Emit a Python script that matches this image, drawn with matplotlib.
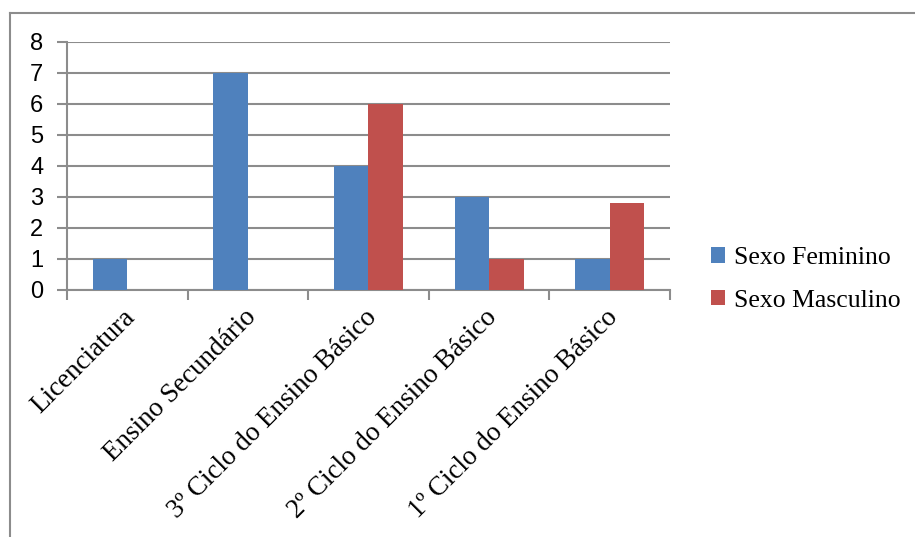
import matplotlib.pyplot as plt
import numpy as np
from matplotlib.lines import Line2D

categories = ["Licenciatura", "Ensino Secundário", "3º Ciclo do Ensino Básico",
              "2º Ciclo do Ensino Básico", "1º Ciclo do Ensino Básico"]
feminino = [1, 7, 4, 3, 1]
masculino = [0, 0, 6, 1, 2.8]
series_names = ["Sexo Feminino", "Sexo Masculino"]
colors = ["#4F81BD", "#C0504D"]
grid_color = "#8C8C8C"

fig = plt.figure(figsize=(9.15, 5.37), dpi=100)
ax = fig.add_axes([0.0732, 0.46, 0.659, 0.4618])

x = np.arange(len(categories))
bw = 1 / 3.5
ax.bar(x - bw / 2, feminino, bw, color=colors[0], label=series_names[0], zorder=3)
ax.bar(x + bw / 2, masculino, bw, color=colors[1], label=series_names[1], zorder=3)

ax.set_xlim(-0.5, len(categories) - 0.5)
ax.set_ylim(0, 8)
ax.set_yticks(range(0, 9))
ax.yaxis.grid(True, color=grid_color, lw=1.5, zorder=0)

for side in ["top", "right"]:
    ax.spines[side].set_visible(False)
for side in ["left", "bottom"]:
    ax.spines[side].set_color(grid_color)
    ax.spines[side].set_linewidth(1.5)

ax.tick_params(axis="y", length=7, width=1.5, color=grid_color, pad=10, labelsize=17)
for t in ax.get_yticklabels():
    t.set_family("Liberation Sans")

# category boundary ticks
ax.set_xticks(np.arange(-0.5, len(categories)), minor=False)
ax.set_xticklabels([])
ax.tick_params(axis="x", length=7, width=1.5, color=grid_color)
for i, c in enumerate(categories):
    ax.annotate(c, xy=(x[i], 0), xycoords="data", xytext=(3, -17), textcoords="offset points",
                rotation=45, ha="right", va="center", rotation_mode="anchor",
                family="Liberation Serif", fontsize=19.5)

fig.legend(loc="center left", bbox_to_anchor=(0.752, 0.48), frameon=False,
           prop={"family": "Liberation Serif", "size": 18.5},
           handlelength=0.55, handleheight=0.55, handletextpad=0.35, labelspacing=0.8)

# chart border (top and left visible)
fig.add_artist(Line2D([10 / 915, 10 / 915], [0, 1 - 13 / 537], transform=fig.transFigure,
                      color=grid_color, lw=1.5))
fig.add_artist(Line2D([10 / 915, 1], [1 - 13 / 537, 1 - 13 / 537], transform=fig.transFigure,
                      color=grid_color, lw=1.5))

fig.savefig("out.png", dpi=100)
